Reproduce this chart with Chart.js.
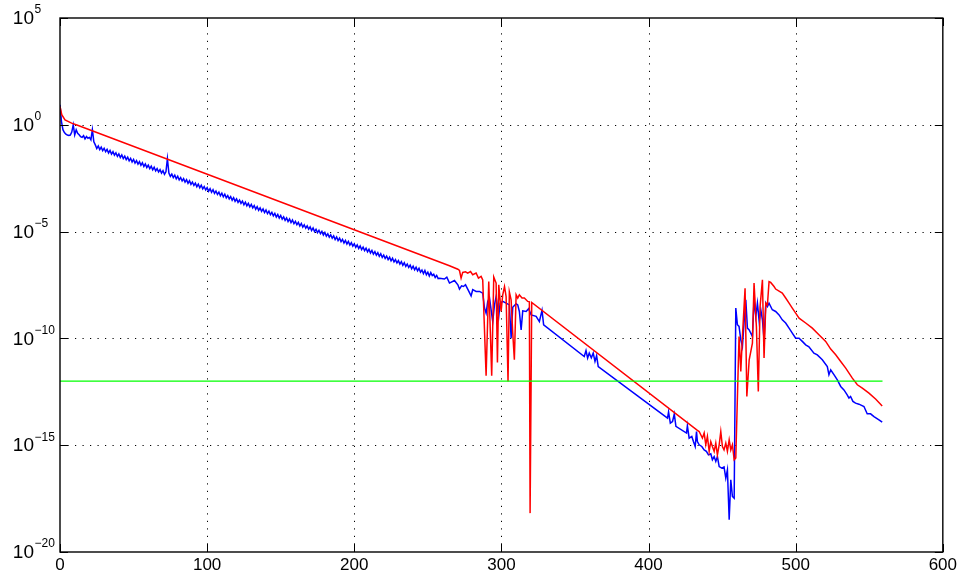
<!DOCTYPE html>
<html><head><meta charset="utf-8">
<script src="https://cdn.jsdelivr.net/npm/chart.js@4/dist/chart.umd.min.js"></script>
<style>html,body{margin:0;padding:0;background:#fff}</style>
</head><body>
<canvas id="c" width="960" height="575"></canvas>
<script>
// ---- data (y values given as base-10 exponents) ----
const xTicks = [0, 100, 200, 300, 400, 500, 600];
const yTickExps = [-20, -15, -10, -5, 0, 5];

const thresholdExp = -12;
const thresholdX = [0, 559];

const blueHeadX = [0,1,2,3,4,5,6,7,8,9,10,11,12,13,14,15,16,17,18,19,20,21,22,23];
const blueHeadE = [0.94,0.15,-0.23,-0.36,-0.44,-0.48,-0.50,-0.48,-0.34,0.0,-0.47,-0.23,-0.40,-0.47,-0.56,-0.59,-0.51,-0.66,-0.55,-0.63,-0.59,-0.70,-0.23,-0.80];

const blueZigStart = 24;
const blueZigE = [
-0.94,-1.11,-0.99,-1.16,-1.05,-1.21,-1.10,-1.26,-1.15,-1.32,
-1.20,-1.37,-1.26,-1.42,-1.31,-1.48,-1.36,-1.53,-1.41,-1.58,
-1.47,-1.63,-1.52,-1.69,-1.57,-1.74,-1.62,-1.79,-1.68,-1.84,
-1.73,-1.90,-1.78,-1.95,-1.83,-2.00,-1.89,-2.05,-1.94,-2.11,
-1.99,-2.16,-2.05,-2.21,-2.10,-2.26,-2.15,-2.32,-2.20,-1.58,
-2.26,-2.42,-2.31,-2.47,-2.36,-2.53,-2.41,-2.58,-2.47,-2.63,
-2.52,-2.68,-2.57,-2.74,-2.62,-2.79,-2.68,-2.84,-2.73,-2.90,
-2.78,-2.95,-2.83,-3.00,-2.89,-3.05,-2.94,-3.11,-2.99,-3.16,
-3.04,-3.21,-3.10,-3.26,-3.15,-3.32,-3.20,-3.37,-3.25,-3.42,
-3.31,-3.47,-3.36,-3.53,-3.41,-3.58,-3.47,-3.63,-3.52,-3.68,
-3.57,-3.74,-3.62,-3.79,-3.68,-3.84,-3.73,-3.89,-3.78,-3.95,
-3.83,-4.00,-3.89,-4.05,-3.94,-4.11,-3.99,-4.16,-4.04,-4.21,
-4.10,-4.26,-4.15,-4.32,-4.20,-4.37,-4.25,-4.42,-4.31,-4.47,
-4.36,-4.53,-4.41,-4.58,-4.46,-4.63,-4.52,-4.68,-4.57,-4.74,
-4.62,-4.79,-4.68,-4.84,-4.73,-4.89,-4.78,-4.95,-4.83,-5.00,
-4.89,-5.05,-4.94,-5.10,-4.99,-5.16,-5.04,-5.21,-5.10,-5.26,
-5.15,-5.31,-5.20,-5.37,-5.25,-5.42,-5.31,-5.47,-5.36,-5.53,
-5.41,-5.58,-5.46,-5.63,-5.52,-5.68,-5.57,-5.74,-5.62,-5.79,
-5.67,-5.84,-5.73,-5.89,-5.78,-5.95,-5.83,-6.00,-5.88,-6.05,
-5.94,-6.10,-5.99,-6.16,-6.04,-6.21,-6.10,-6.26,-6.15,-6.31,
-6.20,-6.37,-6.25,-6.42,-6.31,-6.47,-6.36,-6.52,-6.41,-6.58,
-6.46,-6.63,-6.52,-6.68,-6.57,-6.74,-6.62,-6.79,-6.67,-6.84,
-6.72,-6.90,-6.80,-6.97,-6.82,-7.02,-6.90,-7.08,-6.92,-7.06,
-7.00,-7.15,-7.05,-7.20
];

const blueTailX = [258,261.3,262.9,264.7,268.1,270.4,271.5,272.9,274.2,275.6,277.1,279.4,280.5,282.8,285.1,287.3,288.5,289.6,290.7,291.9,293.0,294.1,295.3,296.4,298.2,299.1,300.9,303.2,305.4,306.6,307.7,310.0,311.1,312.2,313.4,314.5,316.8,318.5,320.2,323.6,325.8,327.6,328.7,356.3,357.5,358.6,359.7,361.1,362.4,363.6,364.7,365.8,412.9,413.6,414.8,416.3,417.5,418.6,425.8,426.4,427.6,429.4,430.5,431.7,432.6,433.2,434.4,436.2,437.8,439.3,440.7,442.3,443.4,444.6,445.7,446.8,448.0,449.8,451.3,452.5,453.6,454.8,455.9,457.0,458.2,459.3,460.4,461.5,462.7,463.8,464.9,466.1,467.2,468.4,470.6,471.7,472.9,474.0,475.2,476.3,477.4,478.5,479.7,480.8,481.9,484.1,486.4,488.7,490.9,493.2,495.5,497.7,500.0,502.3,504.5,506.8,509.0,512.4,514.7,518.1,521.5,522.6,523.8,526.0,528.3,530.6,532.8,535.0,536.2,537.3,538.9,540.7,543.0,546.4,548.6,550.9,553.2,556.6,558.8];
const blueTailE = [-7.18,-7.22,-7.13,-7.41,-7.29,-7.49,-7.69,-7.54,-7.57,-7.49,-7.69,-8.01,-7.72,-7.80,-7.80,-7.88,-8.58,-8.82,-8.27,-8.10,-8.66,-9.21,-8.43,-8.04,-8.97,-8.35,-8.27,-8.35,-8.43,-9.99,-8.54,-8.38,-8.43,-8.74,-9.60,-8.71,-8.74,-8.61,-8.90,-8.97,-9.21,-8.69,-9.36,-10.85,-10.57,-10.92,-10.69,-10.91,-10.69,-11.08,-10.81,-11.32,-13.73,-13.44,-13.97,-13.89,-13.54,-14.12,-14.43,-14.09,-14.67,-14.59,-14.83,-15.06,-14.36,-14.83,-14.98,-15.06,-15.22,-15.29,-15.45,-15.40,-15.68,-15.53,-15.76,-15.53,-16.00,-16.07,-16.02,-16.54,-16.15,-18.49,-16.62,-17.40,-17.48,-8.58,-9.36,-9.44,-10.07,-10.38,-9.28,-8.19,-9.52,-9.60,-9.91,-8.19,-8.97,-8.35,-9.21,-8.66,-9.13,-10.07,-8.35,-8.51,-8.35,-8.66,-8.74,-8.90,-9.13,-9.28,-9.52,-9.75,-9.99,-9.99,-10.14,-10.30,-10.39,-10.69,-10.77,-11.00,-11.32,-11.70,-11.47,-11.70,-11.94,-12.25,-12.41,-12.64,-12.79,-12.72,-12.95,-13.03,-13.08,-13.19,-13.53,-13.53,-13.66,-13.81,-13.92];

const redX = [0,1.2,3.4,7.9,12.4,264.7,270.4,271.5,272.6,273.7,275.6,277.1,279.0,280.5,282.8,284.4,286.2,287.3,289.6,291.4,293.4,294.8,296.4,297.3,298.2,299.8,300.9,302.1,303.2,304.5,305.4,306.6,307.7,308.8,310.0,311.1,312.2,314.0,315.6,317.9,319.0,319.5,320.6,433.2,434.4,436.6,437.8,438.9,440.0,441.2,442.3,443.4,444.6,445.7,446.8,448.0,449.1,450.2,451.3,452.5,453.6,454.8,455.9,457.0,458.2,459.3,461.5,462.7,463.8,465.6,466.8,468.4,470.6,471.7,473.3,474.6,475.8,477.4,478.5,479.7,480.8,481.9,483.0,485.3,486.4,490.9,493.2,495.5,497.7,500.0,502.3,506.8,511.3,515.8,520.4,523.8,527.2,530.6,534.0,538.5,541.9,545.3,549.8,554.3,558.8];
const redE = [0.86,0.47,0.23,0.08,-0.03,-6.60,-6.76,-6.82,-7.18,-6.91,-6.88,-6.94,-6.87,-7.02,-6.94,-7.18,-7.10,-7.26,-11.75,-7.34,-11.75,-7.13,-7.41,-11.13,-7.49,-8.74,-7.96,-7.57,-8.04,-12.02,-7.82,-8.19,-9.74,-11.00,-7.96,-8.11,-7.96,-8.11,-8.11,-8.27,-8.29,-18.18,-8.32,-14.31,-14.36,-14.67,-14.43,-14.98,-14.59,-15.29,-14.83,-15.06,-15.29,-14.90,-15.45,-14.98,-14.36,-15.06,-15.22,-14.90,-15.29,-14.75,-15.22,-14.98,-15.68,-15.60,-9.91,-11.55,-9.91,-7.65,-12.72,-11.00,-10.22,-7.41,-9.44,-12.49,-8.51,-7.26,-10.92,-8.35,-8.43,-7.34,-7.38,-7.57,-7.69,-7.88,-8.11,-8.35,-8.58,-8.82,-9.05,-9.28,-9.52,-9.83,-10.14,-10.50,-10.77,-11.08,-11.39,-11.86,-12.17,-12.33,-12.56,-12.84,-13.16];

// ---- build point tables ----
const pts = (xs, es) => xs.map((x, i) => ({x: x, y: Math.pow(10, es[i])}));
const bluePts = pts(blueHeadX, blueHeadE)
  .concat(blueZigE.map((e, i) => ({x: blueZigStart + i, y: Math.pow(10, e)})))
  .concat(pts(blueTailX, blueTailE));
const redPts = pts(redX, redE);
const greenPts = thresholdX.map(x => ({x: x, y: Math.pow(10, thresholdExp)}));

const FONT = "'Liberation Sans', Arial, sans-serif";

const framePlugin = {
  id: 'frame',
  beforeDatasetsDraw(chart) {
    const {ctx, chartArea: a, scales: {x, y}} = chart;
    ctx.save();
    ctx.strokeStyle = '#000';
    ctx.lineWidth = 1;
    ctx.setLineDash([1.2, 6.3]);
    xTicks.slice(1, -1).forEach(v => {
      const px = Math.round(x.getPixelForValue(v)) + 0.5;
      ctx.beginPath(); ctx.moveTo(px, a.bottom); ctx.lineTo(px, a.top); ctx.stroke();
    });
    yTickExps.slice(1, -1).forEach(e => {
      const py = Math.round(y.getPixelForValue(Math.pow(10, e))) + 0.5;
      ctx.beginPath(); ctx.moveTo(a.left, py); ctx.lineTo(a.right, py); ctx.stroke();
    });
    ctx.restore();
  },
  afterDatasetsDraw(chart) {
    const {ctx, chartArea: a, scales: {x, y}} = chart;
    ctx.save();
    ctx.strokeStyle = '#000';
    ctx.lineWidth = 1;
    const tl = 8;
    xTicks.forEach(v => {
      const px = Math.round(x.getPixelForValue(v)) + 0.5;
      ctx.beginPath();
      ctx.moveTo(px, a.bottom); ctx.lineTo(px, a.bottom - tl);
      ctx.moveTo(px, a.top); ctx.lineTo(px, a.top + tl);
      ctx.stroke();
    });
    yTickExps.forEach(e => {
      const py = Math.round(y.getPixelForValue(Math.pow(10, e))) + 0.5;
      ctx.beginPath();
      ctx.moveTo(a.left, py); ctx.lineTo(a.left + tl, py);
      ctx.moveTo(a.right, py); ctx.lineTo(a.right - tl, py);
      ctx.stroke();
    });
    ctx.lineWidth = 1.4;
    ctx.strokeRect(a.left, a.top, a.right - a.left, a.bottom - a.top);
    ctx.restore();
  },
  afterDraw(chart) {
    const {ctx, scales: {y}} = chart;
    ctx.save();
    ctx.fillStyle = '#000';
    ctx.textBaseline = 'middle';
    yTickExps.forEach(e => {
      const py = y.getPixelForValue(Math.pow(10, e));
      ctx.font = '19px ' + FONT;
      ctx.textAlign = 'right';
      ctx.fillText('10', 34, py + 1);
      ctx.font = '12px ' + FONT;
      ctx.textAlign = 'left';
      ctx.fillText(String(e).replace('-', '\u2212'), 34.5, py - 8);
    });
    ctx.restore();
  }
};

new Chart(document.getElementById('c'), {
  type: 'line',
  data: {
    datasets: [
      {data: greenPts, borderColor: '#00ff00', borderWidth: 1.2, order: 0},
      {data: redPts, borderColor: '#ff0000', borderWidth: 1.5, order: 1},
      {data: bluePts, borderColor: '#0000ff', borderWidth: 1.5, order: 2}
    ]
  },
  options: {
    responsive: false,
    animation: false,
    events: [],
    elements: {point: {radius: 0}, line: {tension: 0, fill: false}},
    layout: {padding: {top: 18, right: 16, left: 0, bottom: 0}},
    plugins: {legend: {display: false}, tooltip: {enabled: false}},
    scales: {
      x: {
        type: 'linear', min: 0, max: 600,
        afterBuildTicks: s => { s.ticks = xTicks.map(v => ({value: v})); },
        afterFit: s => { s.height = 23; },
        grid: {display: false, drawTicks: false}, border: {display: false},
        ticks: {font: {family: FONT, size: 17}, color: '#000', padding: 3, maxRotation: 0, autoSkip: false}
      },
      y: {
        type: 'logarithmic', min: 1e-20, max: 1e5,
        afterBuildTicks: s => { s.ticks = yTickExps.map(e => ({value: Math.pow(10, e)})); },
        afterFit: s => { s.width = 60; },
        grid: {display: false, drawTicks: false}, border: {display: false},
        ticks: {display: false}
      }
    }
  },
  plugins: [framePlugin]
});
</script>
</body></html>
